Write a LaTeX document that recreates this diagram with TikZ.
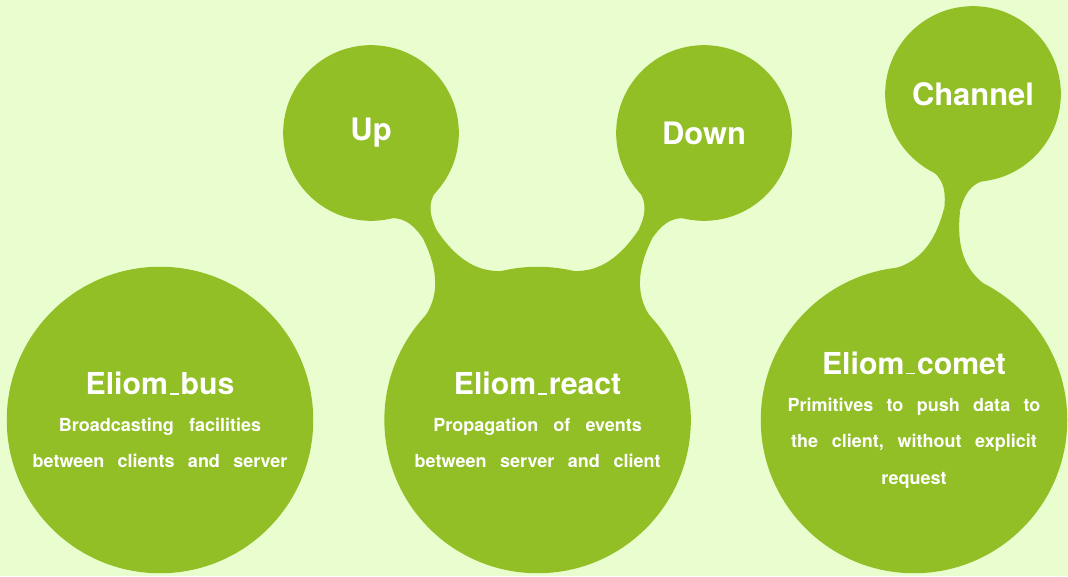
\documentclass[tikz,border=0pt]{standalone}
\usepackage{fontspec}
\setmainfont{TeX Gyre Heros}
\usetikzlibrary{mindmap}

\definecolor{ballgreen}{RGB}{146,191,38}
\definecolor{paper}{RGB}{233,253,206}
\newcommand{\uscore}{\kern.06em\vbox{\hrule height .06em width .3em}\kern.06em}
\newcommand{\heading}[1]{{\fontsize{21.5}{26}\selectfont #1}}
\newcommand{\widespaces}{\spaceskip=9.2pt plus 2pt minus 1pt\relax}

\begin{document}
\begin{tikzpicture}[mindmap, concept color=ballgreen, text=white,
    bigball/.style={concept, circle, fill=ballgreen, minimum size=7.62cm, inner sep=0pt,
      text width=6.6cm, align=center, execute at begin node=\widespaces,
      font=\bfseries\fontsize{12.8}{26}\selectfont},
    smallball/.style={concept, circle, fill=ballgreen, minimum size=4.35cm, inner sep=0pt,
      text width=4cm, align=center, font=\bfseries\fontsize{22}{26}\selectfont}]
    \fill[paper] (0,0) rectangle (26.7,14.4);
    \useasboundingbox (0,0) rectangle (26.7,14.4);

    % the three modules
    \node[bigball] (bus) at (4.0,3.9) {\heading{Eliom\uscore bus}\\
        Broadcasting facilities\\ between clients and server};
    \node[bigball] (react) at (13.44,3.9) {\heading{Eliom\uscore react}\\
        Propagation of events\\ between server and client};
    \node[bigball] (comet) at (22.85,3.9) {\heading{Eliom\uscore comet}\\
        Primitives to push data to\\ the client, without explicit\\ request};

    % sub modules
    \node[smallball] (up) at (9.275,11.075) {Up};
    \node[smallball] (down) at (17.6,11.075) {Down};
    \node[smallball] (channel) at (24.325,12.05) {Channel};

    \path (react) to[circle connection bar] (up);
    \path (react) to[circle connection bar] (down);
    \path (comet) to[circle connection bar] (channel);
\end{tikzpicture}
\end{document}
